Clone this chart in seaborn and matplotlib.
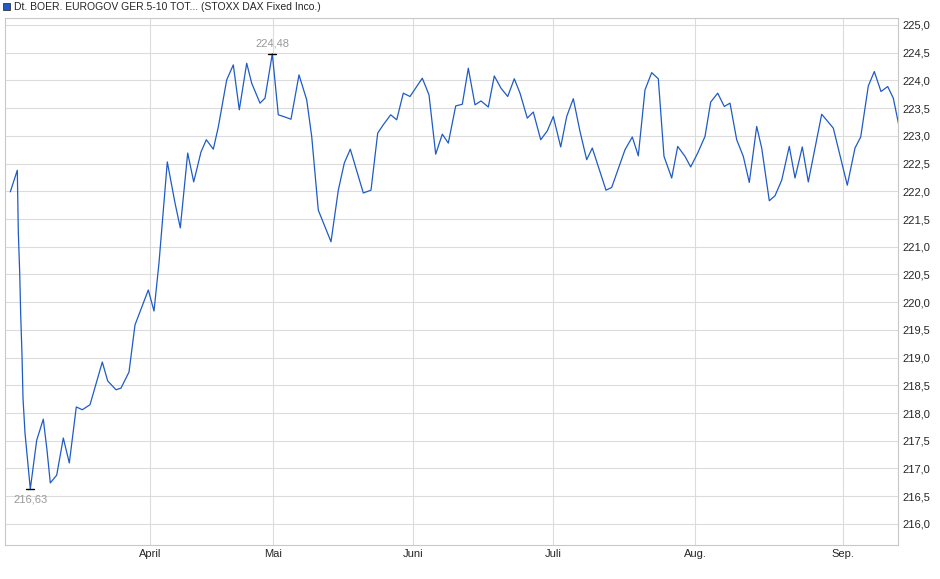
import matplotlib
matplotlib.use("Agg")
import matplotlib.pyplot as plt
import seaborn as sns
import pandas as pd

# trading-day position (chart x units) and value
t = [5.3,12.3,13.3,14.7,15.7,17,18,20,25.3,31.7,38.3,42,45.3,51.7,58.3,64.3,71.3,77.3,85,97.3,102.7,111,116,124,130,136.7,143.3,149,154,162.3,170,175.3,182.7,188.7,196,201.3,208.3,213.3,221.7,228.3,234.3,241.7,246.7,255,260,267.3,273.3,280,286,294,301.7,306.7,313.3,326,333.3,339.3,345.3,358.3,366,372.7,378.3,385.7,391.7,398.3,405,417.3,424,430.7,437.3,443.3,450.7,457.3,463.3,470,476,483.3,489.3,496,502.7,509.3,515,522.3,528.3,535.7,542.3,548.3,555.7,561.7,568.3,575,581.7,587.3,601,606.7,620,627.3,633.3,640,646.7,653.3,659,666.7,672.7,680,685.7,692.7,700,705.7,712.7,719.3,725,731.7,738.3,744.3,751.7,756.7,764.3,770,776.7,784.3,790,797.3,803.3,816.7,828.3,842.3,850,855.7,863.3,869.3,876,882.7,888.3,896]
values = [221.99,222.38,221.27,220.53,219.77,219.05,218.27,217.64,216.63,217.51,217.89,217.33,216.74,216.88,217.55,217.10,218.11,218.06,218.15,218.92,218.58,218.42,218.45,218.74,219.59,219.91,220.22,219.84,220.71,222.53,221.79,221.34,222.69,222.17,222.71,222.93,222.76,223.16,224.01,224.28,223.47,224.31,223.95,223.59,223.68,224.48,223.38,223.34,223.30,224.10,223.65,222.99,221.66,221.09,222.02,222.51,222.76,221.97,222.02,223.05,223.20,223.38,223.29,223.77,223.71,224.04,223.74,222.67,223.03,222.87,223.54,223.57,224.22,223.56,223.63,223.52,224.08,223.86,223.71,224.03,223.77,223.32,223.43,222.93,223.09,223.35,222.80,223.35,223.67,223.08,222.57,222.78,222.02,222.07,222.75,222.98,222.64,223.83,224.14,224.03,222.63,222.24,222.81,222.63,222.44,222.69,222.99,223.61,223.77,223.53,223.59,222.93,222.63,222.16,223.17,222.78,221.83,221.92,222.20,222.81,222.24,222.80,222.17,223.39,223.14,222.11,222.78,222.98,223.90,224.16,223.80,223.89,223.68,223.00]
month_pos = [145, 268, 408, 548, 690, 838]
month_labels = ["April", "Mai", "Juni", "Juli", "Aug.", "Sep."]
y_ticks = [216.0 + 0.5 * i for i in range(19)]
series_name = "Dt. BOER. EUROGOV GER.5-10 TOT... (STOXX DAX Fixed Inco.)"

sns.set_theme(style="white")
plt.rcParams['font.family'] = ['Liberation Sans', 'DejaVu Sans']
fig = plt.figure(figsize=(9.4, 5.79), dpi=100)
ax = fig.add_axes([5/940, 1-545/579, 893/940, 527/579])
df = pd.DataFrame({"t": t, "v": values})
sns.lineplot(data=df, x="t", y="v", ax=ax, color="#1f5bc6", linewidth=0.9)
ax.set_xlim(0, 893)
ax.set_ylim(215.62, 225.126)
ax.set_xticks(month_pos)
ax.set_xticklabels(month_labels, fontsize=8)
ax.set_yticks(y_ticks)
ax.set_yticklabels([f"{v:.1f}".replace(".", ",") for v in y_ticks], fontsize=8)
ax.yaxis.tick_right()
ax.tick_params(axis='both', length=0, pad=3)
ax.grid(True, color="#dcdcdc", linewidth=0.8)
ax.set_xlabel(""); ax.set_ylabel("")
for s in ax.spines.values():
    s.set_color("#c8c8c8"); s.set_linewidth(0.8)

imax = values.index(max(values)); imin = values.index(min(values))
for i, off, va in [(imax, 4, 'bottom'), (imin, -4, 'top')]:
    ax.plot([t[i]-4, t[i]+4], [values[i]]*2, color="black", linewidth=1)
    ax.annotate(f"{values[i]:.2f}".replace(".", ","), (t[i], values[i]), xytext=(0, off),
                textcoords="offset points", ha="center", va=va, fontsize=8, color="#999999")

fig.patches.append(plt.Rectangle((3/940, 1-10/579), 7/940, 7/579, transform=fig.transFigure,
                                 facecolor="#1f5bc6", edgecolor="#333333", linewidth=0.6))
fig.text(14/940, 1-6.5/579, series_name, fontsize=7.5, va="center", ha="left")
fig.savefig("out.png", dpi=100, facecolor="white")
